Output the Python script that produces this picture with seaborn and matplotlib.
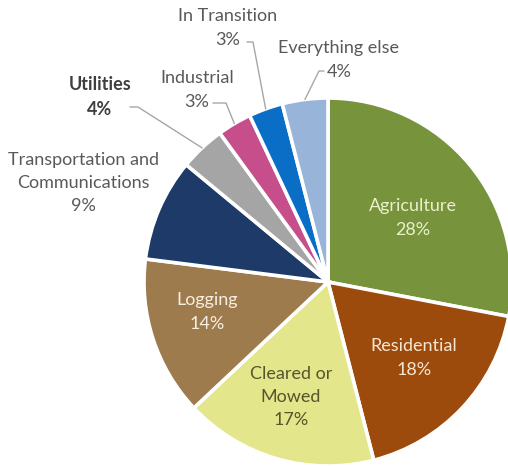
import matplotlib
matplotlib.use("Agg")
import matplotlib.pyplot as plt
import numpy as np
import seaborn as sns

# Land-use shares (percent), clockwise from 12 o'clock
categories = ["Agriculture", "Residential", "Cleared or\nMowed", "Logging",
              "Transportation and\nCommunications", "Utilities", "Industrial",
              "In Transition", "Everything else"]
shares = [28, 18, 17, 14, 9, 4, 3, 3, 4]
colors = ["#77933C", "#9C4B0C", "#E4E68B", "#9E7B4C", "#1D3A68",
          "#A5A5A5", "#C64F8B", "#0A6EC6", "#98B4D8"]

sns.set_theme(style="white")
plt.rcParams["font.family"] = ["Lato", "DejaVu Sans"]

W, H = 508, 466
fig = plt.figure(figsize=(W / 100, H / 100), dpi=100)
ax = fig.add_axes([0, 0, 1, 1])

cx, cy, R = 328, H - 282, 184
wedges, _ = ax.pie(shares, colors=colors, startangle=90, counterclock=False,
                   center=(cx, cy), radius=R, frame=True,
                   wedgeprops=dict(edgecolor="white", linewidth=2.6))
ax.set_xlim(0, W)
ax.set_ylim(0, H)
ax.set_aspect("equal")
ax.axis("off")

fs = 13
ls = 1.55
# Inside labels: (dx, dy) offsets from pie centre, text colour
inside = {
    0: ((85, 64), "#EAF0CC"),
    1: ((86, -76), "#F7E6D2"),
    2: ((-37, -115), "#55552E"),
    3: ((-121, -30), "#F6EEE2"),
}
for i, ((dx, dy), col) in inside.items():
    ax.text(cx + dx, cy + dy, f"{categories[i]}\n{shares[i]}%", ha="center",
            va="center", color=col, fontsize=fs, linespacing=ls, zorder=5)

# Outside labels: text centre and leader-line elbow
outside = {
    4: dict(xy=(83, H - 183), line=None, bold=False),
    5: dict(xy=(100, H - 97), line=[(130, H - 107), (138, H - 107)], bold=True),
    6: dict(xy=(197, H - 90), line=[(213, H - 103), (226, H - 103)], bold=False),
    7: dict(xy=(228, H - 28), line=[(247, H - 42), (253, H - 42)], bold=False),
    8: dict(xy=(339, H - 60), line=[(324, H - 71), (319, H - 71)], bold=False),
}
for i, spec in outside.items():
    x, y = spec["xy"]
    ax.text(x, y, f"{categories[i]}\n{shares[i]}%", ha="center", va="center",
            color="#3F3F3F" if spec["bold"] else "#595959",
            fontweight="bold" if spec["bold"] else "normal",
            fontsize=fs, linespacing=ls, zorder=5)
    if spec["line"] is not None:
        theta = np.deg2rad((wedges[i].theta1 + wedges[i].theta2) / 2)
        ex, ey = cx + R * np.cos(theta), cy + R * np.sin(theta)
        pts = spec["line"] + [(ex, ey)]
        ax.plot([p[0] for p in pts], [p[1] for p in pts], color="#A6A6A6", lw=1.0)

fig.savefig("out.png", dpi=100, facecolor="white")
